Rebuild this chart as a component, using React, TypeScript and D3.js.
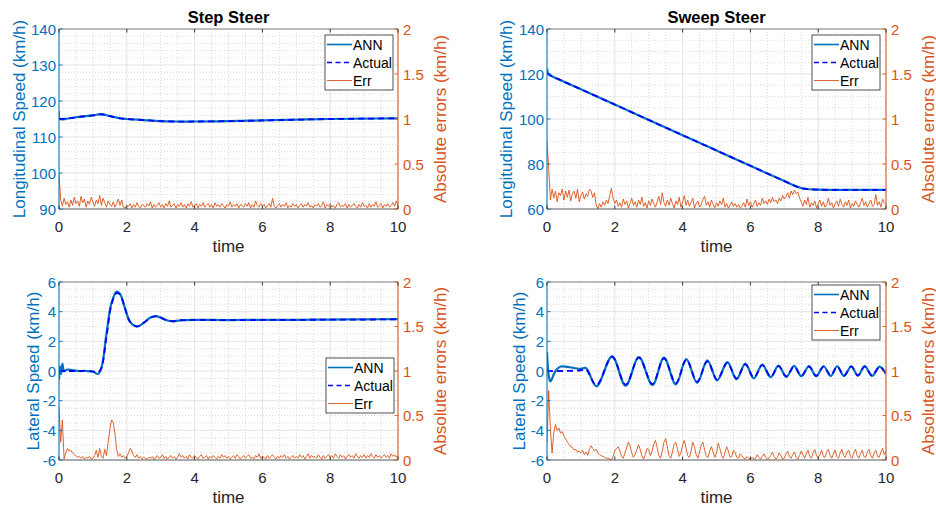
import React from "react";
import * as d3 from "d3";

// ---------- data ----------
const DT = 0.05;
const xTicks = [0, 2, 4, 6, 8, 10];
const errTicks = [0, 0.5, 1, 1.5, 2];
const errTickLabels = ["0", "0.5", "1", "1.5", "2"];

const longStepTicks = [90, 100, 110, 120, 130, 140];
const longSweepTicks = [60, 80, 100, 120, 140];
const latTicks = [-6, -4, -2, 0, 2, 4, 6];

const stepLongAnn: [number, number][] = [
  [0, 117.2], [0.02, 115.0], [0.3, 115.2], [0.6, 115.6], [1.0, 116.0], [1.25, 116.35], [1.5, 115.8],
  [1.8, 115.2], [2.0, 115.0], [2.5, 114.7], [3.0, 114.4], [3.5, 114.3], [4.0, 114.3], [5.0, 114.4],
  [6.0, 114.6], [7.0, 114.8], [8.0, 115.0], [9.0, 115.1], [10.0, 115.2],
];
const stepLongActual: [number, number][] = [
  [0, 115.0], [0.3, 115.2], [0.6, 115.6], [1.0, 116.0], [1.25, 116.3], [1.5, 115.8],
  [1.8, 115.2], [2.0, 115.0], [2.5, 114.7], [3.0, 114.4], [3.5, 114.3], [4.0, 114.3], [5.0, 114.4],
  [6.0, 114.6], [7.0, 114.8], [8.0, 115.0], [9.0, 115.1], [10.0, 115.2],
];
const stepLongErr = [
  0.40, 0.10, 0.03, 0.12, 0.05, 0.08, 0.02, 0.10, 0.04, 0.13, 0.06, 0.09, 0.03, 0.14, 0.07, 0.11, 0.02, 0.09, 0.05, 0.13,
  0.08, 0.03, 0.10, 0.06, 0.15, 0.04, 0.12, 0.07, 0.02, 0.09, 0.05, 0.03, 0.08, 0.02, 0.06, 0.11, 0.04, 0.10, 0.02, 0.01, 0.04,
  0.03, 0.06, 0.01, 0.05, 0.02, 0.07, 0.03, 0.01, 0.05, 0.04,
  0.02, 0.06, 0.03, 0.08, 0.01, 0.05, 0.02, 0.04, 0.07, 0.02,
  0.05, 0.01, 0.06, 0.03, 0.09, 0.02, 0.04, 0.06, 0.01, 0.05,
  0.03, 0.07, 0.02, 0.05, 0.01, 0.06, 0.03, 0.08, 0.02, 0.04,
  0.06, 0.01, 0.05, 0.03, 0.07, 0.02, 0.04, 0.06, 0.02, 0.05,
  0.01, 0.07, 0.03, 0.05, 0.02, 0.06, 0.04, 0.01, 0.05, 0.03,
  0.08, 0.02, 0.05, 0.03, 0.06, 0.01, 0.05, 0.04, 0.02, 0.06,
  0.03, 0.07, 0.01, 0.05, 0.02, 0.09, 0.04, 0.02, 0.06, 0.03,
  0.05, 0.01, 0.04, 0.06, 0.02, 0.12, 0.03, 0.01, 0.04, 0.06,
  0.02, 0.05, 0.03, 0.07, 0.01, 0.04, 0.02, 0.06, 0.03, 0.05,
  0.01, 0.04, 0.06, 0.02, 0.05, 0.03, 0.07, 0.02, 0.04, 0.01,
  0.05, 0.03, 0.06, 0.02, 0.04, 0.08, 0.01, 0.05, 0.03, 0.06,
  0.02, 0.04, 0.01, 0.05, 0.07, 0.02, 0.04, 0.03, 0.06, 0.01,
  0.05, 0.02, 0.04, 0.06, 0.03, 0.01, 0.05, 0.02, 0.07, 0.03,
  0.04, 0.01, 0.06, 0.02, 0.05, 0.03, 0.08, 0.02, 0.04, 0.06,
  0.01, 0.05, 0.03, 0.06, 0.02, 0.04, 0.07, 0.03, 0.09, 0.04,
];

const sweepLongAnn: [number, number][] = [
  [0, 122.5], [0.03, 120.4], [0.1, 119.4], [0.5, 116.6], [1, 113.2], [2, 106.4], [3, 99.6], [4, 92.8],
  [5, 86.0], [6, 79.2], [7, 72.4], [7.4, 69.8], [7.6, 69.0], [8, 68.6], [9, 68.5], [10, 68.5],
];
const sweepLongActual: [number, number][] = [
  [0, 120.3], [0.1, 119.4], [0.5, 116.6], [1, 113.2], [2, 106.4], [3, 99.6], [4, 92.8],
  [5, 86.0], [6, 79.2], [7, 72.4], [7.4, 69.8], [7.6, 69.0], [8, 68.6], [9, 68.5], [10, 68.5],
];
const sweepLongErr = [
  0.75, 0.45, 0.10, 0.22, 0.12, 0.20, 0.08, 0.18, 0.15, 0.22, 0.10, 0.20, 0.13, 0.21, 0.09, 0.17, 0.20, 0.12, 0.22, 0.08,
  0.15, 0.19, 0.11, 0.17, 0.14, 0.22, 0.20, 0.13, 0.18,
  0.05, 0.00, 0.06, 0.02, 0.08, 0.04, 0.10, 0.06,
  0.15, 0.23, 0.12, 0.06, 0.10, 0.03,
  0.07, 0.02, 0.11, 0.05, 0.09, 0.01, 0.06, 0.12, 0.04, 0.08,
  0.02, 0.10, 0.05, 0.13, 0.03, 0.07, 0.01, 0.09, 0.04, 0.11,
  0.06, 0.02, 0.08, 0.14, 0.05, 0.18, 0.07, 0.03, 0.10, 0.04,
  0.12, 0.06, 0.01, 0.09, 0.05, 0.13, 0.02, 0.08, 0.15, 0.04,
  0.10, 0.03, 0.07, 0.12, 0.01, 0.06, 0.09, 0.02, 0.05, 0.11,
  0.14, 0.04, 0.08, 0.02, 0.10, 0.05, 0.01, 0.07, 0.03, 0.09,
  0.05, 0.12, 0.02, 0.06, 0.01, 0.04, 0.08, 0.03, 0.06, 0.02,
  0.05, 0.01, 0.03, 0.07, 0.02, 0.11, 0.04, 0.08, 0.02, 0.06,
  0.10, 0.03, 0.07, 0.04, 0.12, 0.06, 0.09, 0.05, 0.11, 0.07,
  0.13, 0.08, 0.10, 0.06, 0.12, 0.09, 0.15, 0.11,
  0.14, 0.18, 0.12, 0.20, 0.16, 0.21, 0.17, 0.19, 0.12, 0.08,
  0.03, 0.10, 0.05, 0.13, 0.02, 0.07, 0.04, 0.09, 0.01, 0.06,
  0.10, 0.03, 0.08, 0.02, 0.05, 0.12, 0.04, 0.07, 0.01, 0.06,
  0.09, 0.03, 0.11, 0.05, 0.02, 0.08, 0.04, 0.10, 0.01, 0.06,
  0.03, 0.09, 0.05, 0.02, 0.07, 0.12, 0.04, 0.08, 0.02, 0.06,
  0.10, 0.03, 0.05, 0.16, 0.04, 0.08, 0.02, 0.11, 0.07, 0.05,
];

const stepLatAnn: [number, number][] = [
  [0, -0.6], [0.03, 0.3], [0.06, -0.2], [0.1, 0.5], [0.15, 0.0], [0.25, 0.1], [0.4, 0.05], [0.6, 0.0],
  [0.8, 0.0], [1.0, -0.05], [1.15, -0.2], [1.25, 0.2], [1.4, 2.5], [1.55, 4.6], [1.7, 5.35], [1.8, 5.2],
  [1.95, 4.2], [2.1, 3.3], [2.3, 3.0], [2.5, 3.25], [2.7, 3.6], [2.85, 3.7], [3.0, 3.6], [3.2, 3.4],
  [3.35, 3.35], [3.6, 3.42], [4.0, 3.45], [5, 3.43], [6, 3.45], [7, 3.45], [8, 3.47], [9, 3.48], [10, 3.5],
];
const stepLatActual: [number, number][] = [
  [0, 0.0], [0.3, 0.0], [0.6, 0.0], [1.0, -0.02], [1.15, -0.1], [1.25, 0.2], [1.4, 2.3], [1.55, 4.5],
  [1.7, 5.25], [1.8, 5.15], [1.95, 4.2], [2.1, 3.3], [2.3, 3.0], [2.5, 3.25], [2.7, 3.6], [2.85, 3.68],
  [3.0, 3.6], [3.2, 3.4], [3.35, 3.36], [3.6, 3.42], [4.0, 3.44], [5, 3.43], [6, 3.44], [7, 3.45],
  [8, 3.46], [9, 3.47], [10, 3.48],
];
const stepLatErr = [
  0.60, 0.20, 0.45, 0.01, 0.08, 0.13, 0.10, 0.11, 0.08, 0.06,
  0.05, 0.03, 0.04, 0.02, 0.04, 0.01, 0.03, 0.02, 0.04, 0.01,
  0.02, 0.05, 0.11, 0.03, 0.13, 0.04, 0.02, 0.12, 0.05, 0.20,
  0.35, 0.45, 0.42, 0.30, 0.12, 0.04, 0.07, 0.03, 0.05, 0.02, 0.04,
  0.08, 0.13, 0.10, 0.05, 0.03, 0.06, 0.02, 0.04, 0.01, 0.03,
  0.02, 0.01, 0.03, 0.02, 0.04, 0.01, 0.02, 0.05, 0.02, 0.03,
  0.06, 0.02, 0.04, 0.01, 0.03, 0.05, 0.02, 0.04, 0.01, 0.03,
  0.07, 0.03, 0.05, 0.02, 0.04, 0.01, 0.06, 0.03, 0.02, 0.05,
  0.03, 0.01, 0.04, 0.06, 0.02, 0.03, 0.05, 0.01, 0.04, 0.02,
  0.05, 0.03, 0.01, 0.04, 0.02, 0.06, 0.03, 0.05, 0.02, 0.04,
  0.01, 0.03, 0.05, 0.02, 0.06, 0.04, 0.01, 0.03, 0.05, 0.02,
  0.04, 0.06, 0.02, 0.03, 0.01, 0.05, 0.03, 0.07, 0.02, 0.04,
  0.03, 0.01, 0.05, 0.02, 0.04, 0.06, 0.03, 0.01, 0.04, 0.02,
  0.05, 0.03, 0.06, 0.02, 0.04, 0.01, 0.03, 0.05, 0.02, 0.04,
  0.02, 0.06, 0.03, 0.05, 0.01, 0.04, 0.07, 0.02, 0.05, 0.03,
  0.04, 0.02, 0.06, 0.03, 0.01, 0.05, 0.02, 0.04, 0.06, 0.03,
  0.05, 0.02, 0.07, 0.04, 0.02, 0.06, 0.03, 0.05, 0.01, 0.04,
  0.06, 0.03, 0.05, 0.02, 0.07, 0.04, 0.02, 0.05, 0.03, 0.06,
  0.02, 0.05, 0.03, 0.07, 0.04, 0.02, 0.06, 0.03, 0.05, 0.02,
  0.04, 0.06, 0.03, 0.05, 0.02, 0.07, 0.04, 0.06, 0.03, 0.05,
];

const sweepLatAnn: [number, number][] = [
  [0, 1.3], [0.05, -0.3], [0.1, -0.7], [0.25, 0.0], [0.4, 0.3], [0.6, 0.28], [0.8, 0.2], [1.0, 0.15],
  [1.15, 0.2], [1.46, -1.03], [1.92, 0.99], [2.32, -0.99], [2.71, 0.94], [3.11, -0.94], [3.45, 0.9],
  [3.8, -0.9], [4.11, 0.8], [4.43, -0.8], [4.73, 0.72], [5.02, -0.63], [5.32, 0.6], [5.59, -0.56],
  [5.85, 0.5], [6.1, -0.5], [6.35, 0.43], [6.6, -0.42], [6.83, 0.36], [7.06, -0.4], [7.29, 0.34],
  [7.5, -0.35], [7.73, 0.33], [7.94, -0.35], [8.16, 0.32], [8.37, -0.34], [8.56, 0.32], [8.76, -0.34],
  [8.98, 0.32], [9.17, -0.33], [9.37, 0.33], [9.59, -0.33], [9.81, 0.3], [10, -0.2],
];
const sweepLatActual: [number, number][] = [
  [0, 0.0], [0.5, 0.0], [1.0, 0.05], [1.15, 0.1], [1.46, -0.95], [1.92, 0.95], [2.32, -0.92], [2.71, 0.9],
  [3.11, -0.88], [3.45, 0.85], [3.8, -0.82], [4.11, 0.75], [4.43, -0.72], [4.73, 0.65], [5.02, -0.58],
  [5.32, 0.55], [5.59, -0.5], [5.85, 0.45], [6.1, -0.45], [6.35, 0.4], [6.6, -0.38], [6.83, 0.33],
  [7.06, -0.36], [7.29, 0.3], [7.5, -0.32], [7.73, 0.3], [7.94, -0.32], [8.16, 0.3], [8.37, -0.31],
  [8.56, 0.3], [8.76, -0.31], [8.98, 0.3], [9.17, -0.3], [9.37, 0.3], [9.59, -0.3], [9.81, 0.28], [10, -0.18],
];
const sweepLatErr = [
  0.20, 0.78, 0.35, 0.08, 0.30, 0.40, 0.33, 0.36, 0.30, 0.32,
  0.27, 0.24, 0.20, 0.18, 0.15, 0.14, 0.11, 0.12, 0.09, 0.10,
  0.08, 0.11, 0.06, 0.09, 0.05, 0.12, 0.16, 0.13, 0.10, 0.12,
  0.08, 0.06, 0.05, 0.04, 0.03, 0.02, 0.02, 0.01, 0.00, 0.04, 0.10,
  0.13, 0.15, 0.10, 0.04, 0.02, 0.08, 0.14, 0.20, 0.16, 0.08,
  0.03, 0.06, 0.12, 0.17, 0.12, 0.05, 0.01, 0.06, 0.13, 0.12,
  0.05, 0.10, 0.18, 0.22, 0.14, 0.05, 0.02, 0.10, 0.20, 0.24,
  0.15, 0.05, 0.02, 0.09, 0.18, 0.20, 0.12, 0.04, 0.08, 0.17,
  0.22, 0.14, 0.05, 0.03, 0.10, 0.20, 0.15, 0.06, 0.02, 0.09,
  0.17, 0.20, 0.11, 0.04, 0.03, 0.10, 0.15, 0.09, 0.03, 0.08,
  0.19, 0.13, 0.05, 0.02, 0.08, 0.15, 0.10, 0.03, 0.04, 0.11,
  0.08, 0.03, 0.02, 0.07, 0.05, 0.02, 0.01, 0.04, 0.02, 0.01,
  0.03, 0.01, 0.02, 0.06, 0.03, 0.01, 0.04, 0.07, 0.03, 0.01,
  0.02, 0.05, 0.09, 0.04, 0.01, 0.03, 0.08, 0.05, 0.01, 0.02,
  0.07, 0.10, 0.04, 0.02, 0.06, 0.09, 0.03, 0.01, 0.05, 0.10,
  0.06, 0.02, 0.07, 0.11, 0.04, 0.02, 0.08, 0.12, 0.05, 0.02,
  0.06, 0.11, 0.04, 0.03, 0.09, 0.12, 0.05, 0.02, 0.07, 0.11,
  0.04, 0.02, 0.08, 0.12, 0.05, 0.03, 0.09, 0.11, 0.04, 0.02,
  0.08, 0.12, 0.05, 0.02, 0.07, 0.11, 0.04, 0.03, 0.09, 0.12,
  0.05, 0.02, 0.08, 0.11, 0.04, 0.03, 0.09, 0.13, 0.06, 0.10,
];

// ---------- styling ----------
const BLUE = "#0072BD";
const DARKBLUE = "#0000FF";
const ORANGE = "#D95319";
const AXIS = "#262626";
const FONT = "'Liberation Sans', Arial, Helvetica, sans-serif";

type Panel = {
  id: string;
  left: number; right: number; top: number; bottom: number;
  title?: string;
  yDomain: [number, number]; yTicks: number[]; yMinor: number;
  yLabel: string; yLabelOff: number;
  ann: [number, number][]; actual: [number, number][]; err: number[];
  legend: [number, number];
};

const panels: Panel[] = [
  { id: "p1", left: 59, right: 398, top: 29, bottom: 209, title: "Step Steer",
    yDomain: [90, 140], yTicks: longStepTicks, yMinor: 2, yLabel: "Longitudinal Speed (km/h)", yLabelOff: 40,
    ann: stepLongAnn, actual: stepLongActual, err: stepLongErr, legend: [325, 35] },
  { id: "p2", left: 547, right: 886, top: 29, bottom: 209, title: "Sweep Steer",
    yDomain: [60, 140], yTicks: longSweepTicks, yMinor: 5, yLabel: "Longitudinal Speed (km/h)", yLabelOff: 41,
    ann: sweepLongAnn, actual: sweepLongActual, err: sweepLongErr, legend: [812, 35] },
  { id: "p3", left: 59, right: 398, top: 282, bottom: 460,
    yDomain: [-6, 6], yTicks: latTicks, yMinor: 0.5, yLabel: "Lateral Speed (km/h)", yLabelOff: 26,
    ann: stepLatAnn, actual: stepLatActual, err: stepLatErr, legend: [326, 358] },
  { id: "p4", left: 547, right: 886, top: 282, bottom: 460,
    yDomain: [-6, 6], yTicks: latTicks, yMinor: 0.5, yLabel: "Lateral Speed (km/h)", yLabelOff: 28,
    ann: sweepLatAnn, actual: sweepLatActual, err: sweepLatErr, legend: [812, 285] },
];

function PanelView({ p }: { p: Panel }) {
  const x = d3.scaleLinear().domain([0, 10]).range([p.left, p.right]);
  const y = d3.scaleLinear().domain(p.yDomain).range([p.bottom, p.top]);
  const yr = d3.scaleLinear().domain([0, 2]).range([p.bottom, p.top]);
  const smooth = d3.line<[number, number]>().x(d => x(d[0])).y(d => y(d[1])).curve(d3.curveCatmullRom.alpha(0.5));
  const errLine = d3.line<number>().x((_, i) => x(i * DT)).y(d => yr(d));
  const xMinor = d3.range(0, 10.0001, 0.5).filter(v => Math.abs(v / 2 - Math.round(v / 2)) > 1e-6);
  const yMinorVals = d3.range(p.yDomain[0], p.yDomain[1] + 1e-6, p.yMinor).filter(v => !p.yTicks.some(t => Math.abs(t - v) < 1e-6));
  const tl = 3.5;
  const cx = (p.left + p.right) / 2;
  const cy = (p.top + p.bottom) / 2;
  const [lx, ly] = p.legend;
  return (
    <g>
      <defs>
        <clipPath id={"clip-" + p.id}>
          <rect x={p.left} y={p.top - 2} width={p.right - p.left} height={p.bottom - p.top + 2} />
        </clipPath>
      </defs>
      <rect x={p.left} y={p.top} width={p.right - p.left} height={p.bottom - p.top} fill="#fff" />
      {/* minor grid */}
      {xMinor.map(v => (
        <line key={"xm" + v} x1={x(v)} x2={x(v)} y1={p.top} y2={p.bottom} stroke="#c8c8c8" strokeWidth={0.7} strokeDasharray="1,2" />
      ))}
      {yMinorVals.map(v => (
        <line key={"ym" + v} x1={p.left} x2={p.right} y1={y(v)} y2={y(v)} stroke="#c8c8c8" strokeWidth={0.7} strokeDasharray="1,2" />
      ))}
      {/* major grid */}
      {xTicks.map(v => (
        <line key={"xg" + v} x1={x(v)} x2={x(v)} y1={p.top} y2={p.bottom} stroke="#dcdcdc" strokeWidth={0.8} />
      ))}
      {p.yTicks.map(v => (
        <line key={"yg" + v} x1={p.left} x2={p.right} y1={y(v)} y2={y(v)} stroke="#dcdcdc" strokeWidth={0.8} />
      ))}
      <g clipPath={`url(#clip-${p.id})`}>
        <path d={errLine(p.err) || ""} fill="none" stroke={ORANGE} strokeWidth={0.9} />
        <path d={smooth(p.ann) || ""} fill="none" stroke={BLUE} strokeWidth={2.2} />
        <path d={smooth(p.actual) || ""} fill="none" stroke={DARKBLUE} strokeWidth={1.8} strokeDasharray="6,4" />
      </g>
      {/* spines */}
      <line x1={p.left} x2={p.right} y1={p.top} y2={p.top} stroke="#7a7a7a" strokeWidth={0.9} />
      <line x1={p.left} x2={p.right} y1={p.bottom} y2={p.bottom} stroke="#555" strokeWidth={0.9} />
      <line x1={p.left} x2={p.left} y1={p.top} y2={p.bottom} stroke={BLUE} strokeWidth={1} />
      <line x1={p.right} x2={p.right} y1={p.top} y2={p.bottom} stroke={ORANGE} strokeWidth={1} />
      {/* x ticks */}
      {xTicks.map(v => (
        <g key={"xt" + v}>
          <line x1={x(v)} x2={x(v)} y1={p.bottom} y2={p.bottom - tl} stroke={AXIS} strokeWidth={0.9} />
          <line x1={x(v)} x2={x(v)} y1={p.top} y2={p.top + tl} stroke={AXIS} strokeWidth={0.9} />
          <text x={x(v)} y={p.bottom + 17} textAnchor="middle" dominantBaseline="central" fontSize={15} fill={AXIS} fontFamily={FONT}>{v}</text>
        </g>
      ))}
      {/* left ticks */}
      {p.yTicks.map(v => (
        <g key={"yt" + v}>
          <line x1={p.left} x2={p.left + tl} y1={y(v)} y2={y(v)} stroke={BLUE} strokeWidth={0.9} />
          <text x={p.left - 3} y={y(v)} textAnchor="end" dominantBaseline="central" fontSize={15} fill={BLUE} fontFamily={FONT}>{v}</text>
        </g>
      ))}
      {/* right ticks */}
      {errTicks.map((v, i) => (
        <g key={"rt" + v}>
          <line x1={p.right} x2={p.right - tl} y1={yr(v)} y2={yr(v)} stroke={ORANGE} strokeWidth={0.9} />
          <text x={p.right + 5} y={yr(v)} textAnchor="start" dominantBaseline="central" fontSize={15} fill={ORANGE} fontFamily={FONT}>{errTickLabels[i]}</text>
        </g>
      ))}
      {/* labels */}
      <text x={cx} y={p.bottom + 37} textAnchor="middle" dominantBaseline="central" fontSize={17} fill={AXIS} fontFamily={FONT}>time</text>
      <text transform={`translate(${p.left - p.yLabelOff},${cy}) rotate(-90)`} textAnchor="middle" dominantBaseline="central" fontSize={17} fill={BLUE} fontFamily={FONT}>{p.yLabel}</text>
      <text transform={`translate(${p.right + 42},${cy}) rotate(-90)`} textAnchor="middle" dominantBaseline="central" fontSize={17} fill={ORANGE} fontFamily={FONT}>Absolute errors (km/h)</text>
      {p.title && (
        <text x={cx} y={p.top - 12} textAnchor="middle" dominantBaseline="central" fontSize={16.5} fontWeight="bold" fill="#000" fontFamily={FONT}>{p.title}</text>
      )}
      {/* legend */}
      <g>
        <rect x={lx} y={ly} width={68} height={55} fill="#fff" stroke={AXIS} strokeWidth={0.8} />
        <line x1={lx + 2} x2={lx + 27} y1={ly + 9.5} y2={ly + 9.5} stroke={BLUE} strokeWidth={1.6} />
        <text x={lx + 28} y={ly + 10} dominantBaseline="central" fontSize={14} fill="#000" fontFamily={FONT}>ANN</text>
        <line x1={lx + 2} x2={lx + 27} y1={ly + 27.5} y2={ly + 27.5} stroke={DARKBLUE} strokeWidth={1.6} strokeDasharray="5,3.5" />
        <text x={lx + 28} y={ly + 28} dominantBaseline="central" fontSize={14} fill="#000" fontFamily={FONT}>Actual</text>
        <line x1={lx + 2} x2={lx + 27} y1={ly + 45.5} y2={ly + 45.5} stroke={ORANGE} strokeWidth={0.9} />
        <text x={lx + 28} y={ly + 46} dominantBaseline="central" fontSize={14} fill="#000" fontFamily={FONT}>Err</text>
      </g>
    </g>
  );
}

export default function App() {
  return (
    <svg width={936} height={505} style={{ position: "absolute", left: 0, top: 0, background: "#fff" }}>
      <rect width={936} height={505} fill="#fff" />
      {panels.map(p => <PanelView key={p.id} p={p} />)}
    </svg>
  );
}
